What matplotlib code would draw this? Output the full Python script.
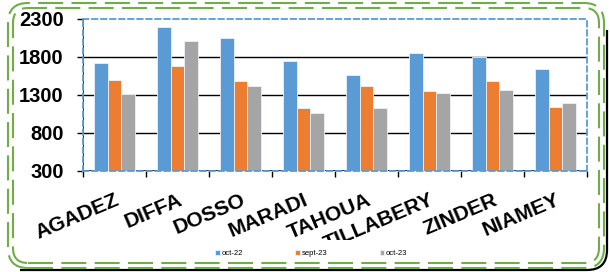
import numpy as np
import matplotlib
matplotlib.use("Agg")
import matplotlib.pyplot as plt
from matplotlib.patches import FancyBboxPatch, PathPatch
from matplotlib.path import Path
from matplotlib.transforms import Bbox

# DATA
regions = ["AGADEZ", "DIFFA", "DOSSO", "MARADI", "TAHOUA", "TILLABERY", "ZINDER", "NIAMEY"]
oct_22 = [1715, 2190, 2055, 1750, 1565, 1850, 1805, 1645]
sept_23 = [1495, 1680, 1485, 1125, 1415, 1350, 1485, 1140]
oct_23 = [1310, 2005, 1415, 1060, 1125, 1325, 1365, 1190]
series_names = ["oct-22", "sept-23", "oct-23"]
colors = ["#5B9BD5", "#ED7D31", "#A5A5A5"]

plt.rcParams['font.family'] = ['Liberation Sans', 'DejaVu Sans']

W, H = 610, 272
fig = plt.figure(figsize=(W / 100, H / 100), dpi=100)
ax = fig.add_axes([83 / W, 1 - 171 / H, 504 / W, 152 / H])

x = np.arange(len(regions))
w = 0.222
for i, (vals, name) in enumerate(zip([oct_22, sept_23, oct_23], series_names)):
    ax.bar(x + (i - 1) * w, np.array(vals) - 300, w, bottom=300, color=colors[i],
           edgecolor="#EAF2FA", linewidth=0.6, label=name, zorder=3)

ax.set_xlim(-0.5, len(regions) - 0.5)
ax.set_ylim(300, 2300)
ax.set_yticks([300, 800, 1300, 1800, 2300])
for yv in [800, 1300, 1800]:
    ax.axhline(yv, color="black", lw=1.0, zorder=1)

ax.set_xticks(np.arange(len(regions) + 1) - 0.5, minor=True)
ax.set_xticks(x)
ax.tick_params(axis="x", which="major", length=0, pad=14)
ax.tick_params(axis="x", which="minor", length=4, width=1, direction="out", color="black")
ax.tick_params(axis="y", length=4, width=1, color="black", labelsize=14.5, pad=10)
ax.set_xticklabels(regions, rotation=23, ha="right", rotation_mode="anchor",
                   fontsize=15.2, fontweight="bold")
for lab in ax.get_yticklabels():
    lab.set_fontweight("bold")

# labels get cut off above the legend, as in the original
clip = Bbox.from_extents(0, 32, W, H)
for lab in ax.get_xticklabels():
    lab.set_clip_box(clip)
    lab.set_clip_on(True)

# black axis lines under the dashed border
ax.axvline(-0.5, color="black", lw=1.2, zorder=2)
ax.axhline(300, color="black", lw=1.2, zorder=2)
for s in ax.spines.values():
    s.set_color("#5B9BD5")
    s.set_linestyle((0, (3, 2)))
    s.set_linewidth(1.3)
    s.set_zorder(4)

leg = fig.legend(loc="lower center", bbox_to_anchor=(0.51, 0.03), ncol=3, frameon=False,
                 fontsize=5.5, handlelength=0.6, handleheight=0.6, handletextpad=0.2,
                 columnspacing=6.9)

# outer frame, pixel units (y from top)
def px(x0, y0, x1, y1, r, **kw):
    return FancyBboxPatch((x0 / 100, (H - y1) / 100), (x1 - x0) / 100, (y1 - y0) / 100,
                          boxstyle="round,pad=0,rounding_size=%f" % (r / 100),
                          transform=fig.dpi_scale_trans, fill=False, **kw)

verts = [(607, 30), (607, 250), (607, 270), (587, 270), (20, 270)]
codes = [Path.MOVETO, Path.LINETO, Path.CURVE3, Path.CURVE3, Path.LINETO]
verts = [(vx / 100, (H - vy) / 100) for vx, vy in verts]
fig.patches.append(PathPatch(Path(verts, codes), transform=fig.dpi_scale_trans,
                             fill=False, edgecolor="black", lw=1.6))
fig.patches.append(px(8, 3, 604, 268, 20, edgecolor="#70AD47", lw=1.5, linestyle=(0, (12, 4))))
fig.patches.append(px(13, 8, 599, 263, 15, edgecolor="#70AD47", lw=1.5, linestyle=(0, (12, 4))))

fig.savefig("out.png", dpi=100)
